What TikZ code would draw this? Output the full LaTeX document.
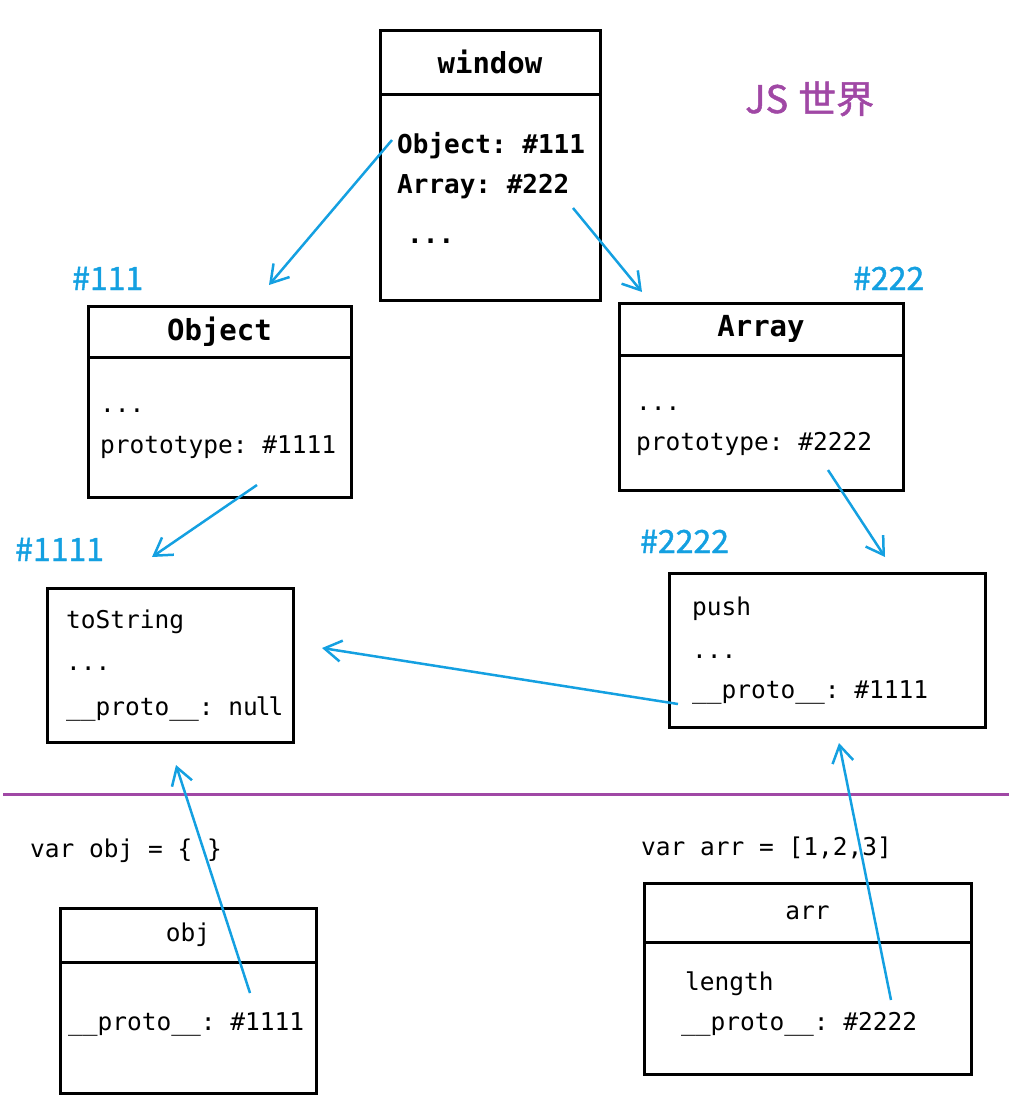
\documentclass[tikz,border=0pt]{standalone}
\usepackage{fontspec}
\setmonofont{DejaVu Sans Mono}
\newfontface\cjkmid[FakeBold=1.3]{Noto Sans CJK SC}
\usetikzlibrary{positioning,arrows.meta}
\definecolor{jsblue}{RGB}{20,160,225}
\definecolor{jspurple}{RGB}{160,72,165}
\tikzstyle{membox}=[rectangle, draw=black, line width=3pt, inner sep=0pt]
\tikzstyle{hdtext}=[font=\fontsize{29}{33}\selectfont\ttfamily\bfseries]
\tikzstyle{hdlight}=[font=\fontsize{24.5}{29}\selectfont\ttfamily]
\tikzstyle{bodytext}=[anchor=base west, inner sep=0pt, font=\fontsize{24.5}{29}\selectfont\ttfamily]
\tikzstyle{wintext}=[anchor=base west, inner sep=0pt, font=\fontsize{26}{30}\selectfont\ttfamily\bfseries]
\tikzstyle{addr}=[anchor=base west, inner sep=0pt, text=jsblue, font=\fontsize{32}{36}\selectfont\cjkmid]
\tikzstyle{ptr}=[line width=2.5pt, jsblue, -{Straight Barb[length=17pt,width=21pt]}]
\begin{document}
\begin{tikzpicture}[x=1pt, y=-1pt]
\useasboundingbox (0,0) rectangle (1009,1104);

    % JS world
    \node (win) [membox, minimum width=220pt, minimum height=270pt] at (490,165) {};
    \node (winhd) [membox, hdtext, minimum width=220pt, minimum height=64pt, below=0pt of win.north] {window};
    \node (winobj) [wintext] at (397,153) {Object: \#111};
    \node (winarr) [wintext] at (397,193) {Array: \#222};
    \node (windots) [wintext] at (407,243) {...};
    \node (world) [anchor=base west, inner sep=0pt, text=jspurple, font=\fontsize{38}{42}\selectfont\cjkmid] at (745,113) {JS\hspace{10pt}世界};

    \node (objc) [membox, minimum width=263pt, minimum height=191pt] at (219.5,401.5) {};
    \node (objhd) [membox, hdtext, minimum width=263pt, minimum height=51pt, below=0pt of objc.north] {Object};
    \node (objdots) [bodytext] at (100,412) {...};
    \node (objproto) [bodytext] at (100,453) {prototype: \#1111};
    \node (objaddr) [addr] at (72,290) {\#111};

    \node (arrc) [membox, minimum width=284pt, minimum height=187pt] at (761,396.5) {};
    \node (arrhd) [membox, hdtext, minimum width=284pt, minimum height=52pt, below=0pt of arrc.north] {Array};
    \node (arrdots) [bodytext] at (636,410) {...};
    \node (arrproto) [bodytext] at (636,450) {prototype: \#2222};
    \node (arraddr) [addr] at (853,290) {\#222};

    \node (objp) [membox, minimum width=246pt, minimum height=154pt] at (170,665) {};
    \node (objpts) [bodytext] at (66,628) {toString};
    \node (objpdots) [bodytext] at (66,670) {...};
    \node (objpproto) [bodytext] at (66,715) {\_\_proto\_\_: nu\kern-2pt l\kern-2pt l};
    \node (objpaddr) [addr] at (15,561) {\#1111};

    \node (arrp) [membox, minimum width=316pt, minimum height=154pt] at (827,650) {};
    \node (arrppush) [bodytext] at (692,615) {push};
    \node (arrpdots) [bodytext] at (692,658) {...};
    \node (arrpproto) [bodytext] at (692,698) {\_\_proto\_\_: \#1111};
    \node (arrpaddr) [addr] at (640,553) {\#2222};

    % user code
    \draw[jspurple, line width=3pt] (3,794) -- (1009,794);
    \node (varobj) [bodytext] at (30,857) {var obj = \{ \}};
    \node (ob) [membox, minimum width=256pt, minimum height=185pt] at (188,1000.5) {};
    \node (obhd) [membox, hdlight, minimum width=256pt, minimum height=54pt, below=0pt of ob.north] {obj};
    \node (obproto) [bodytext] at (68,1030) {\_\_proto\_\_: \#1111};

    \node (vararr) [bodytext] at (641,855) {var arr = [1,2,3]};
    \node (ar) [membox, minimum width=327pt, minimum height=191pt] at (807.5,978.5) {};
    \node (arhd) [membox, hdlight, minimum width=327pt, minimum height=59pt, below=0pt of ar.north] {arr};
    \node (arlen) [bodytext] at (685,990) {length};
    \node (arproto) [bodytext] at (681,1030) {\_\_proto\_\_: \#2222};

%pointers
    \coordinate (pobj) at (392,140);
    \coordinate (objin) at (269,285);
    \coordinate (parr) at (573,208);
    \coordinate (arrin) at (642,292);
    \coordinate (pobjp) at (257,485);
    \coordinate (objpin) at (152,557);
    \coordinate (parrp) at (828,470);
    \coordinate (arrpin) at (885,557);
    \coordinate (pchain) at (678,704);
    \coordinate (chainin) at (322,648);
    \coordinate (pob) at (250,993);
    \coordinate (obin) at (176,765);
    \coordinate (par) at (891,1000);
    \coordinate (arin) at (839,743);

    \draw[ptr] (pobj) -- (objin);
    \draw[ptr] (parr) -- (arrin);
    \draw[ptr] (pobjp) -- (objpin);
    \draw[ptr] (parrp) -- (arrpin);
    \draw[ptr] (pchain) -- (chainin);
    \draw[ptr] (pob) -- (obin);
    \draw[ptr] (par) -- (arin);

\end{tikzpicture}
\end{document}
